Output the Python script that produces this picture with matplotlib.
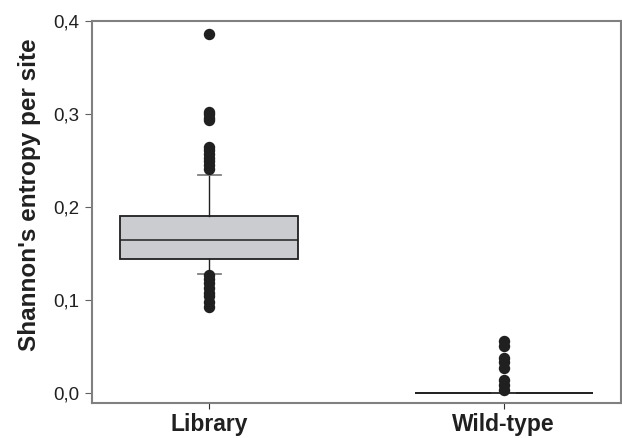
import matplotlib.pyplot as plt
from matplotlib.ticker import FuncFormatter

plt.rcParams['font.family'] = ['Liberation Sans', 'DejaVu Sans']

# grupos e estatisticas
grupos = ["Library", "Wild-type"]
q1 = [0.1444, 0.0]
mediana = [0.1642, 0.0]
q3 = [0.1903, 0.0]
bigode_inf = [0.128, 0.0]
bigode_sup = [0.2347, 0.0]
outliers_library = [0.3857, 0.3025, 0.300, 0.296, 0.2935,
                    0.2645, 0.261, 0.257, 0.253, 0.249, 0.245, 0.2405,
                    0.127, 0.122, 0.118, 0.113, 0.108, 0.104, 0.098, 0.0925]
outliers_wild = [0.056, 0.051, 0.038, 0.033, 0.027, 0.014, 0.009, 0.003]
outliers = [outliers_library, outliers_wild]

stats = []
for i, g in enumerate(grupos):
    stats.append({"label": g, "q1": q1[i], "med": mediana[i], "q3": q3[i],
                  "whislo": bigode_inf[i], "whishi": bigode_sup[i],
                  "fliers": outliers[i]})

fig = plt.figure(figsize=(6.22, 4.38), dpi=100)
ax = fig.add_axes([0.148, 0.080, 0.850, 0.872])

ax.bxp(stats, positions=[1, 2], widths=0.605, patch_artist=True,
       boxprops=dict(facecolor="#cbcccf", edgecolor="#202020", linewidth=1.3),
       medianprops=dict(color="#202020", linewidth=1.1),
       whiskerprops=dict(color="#202020", linewidth=1.0),
       capprops=dict(color="#808080", linewidth=1.3),
       capwidths=0.078,
       flierprops=dict(marker="o", markersize=7.2, markerfacecolor="#202020",
                       markeredgecolor="#202020"))

ax.set_xlim(0.602, 2.398)
ax.set_ylim(-0.0108, 0.4)
ax.set_yticks([0.0, 0.1, 0.2, 0.3, 0.4])
ax.yaxis.set_major_formatter(FuncFormatter(lambda v, p: ("%.1f" % v).replace(".", ",")))
ax.set_xticks([1, 2])
ax.set_xticklabels(grupos, fontsize=16.5, fontweight="bold", color="#202020")
ax.set_ylabel("Shannon's entropy per site", fontsize=17.5, fontweight="bold",
              color="#202020")
ax.yaxis.set_label_coords(-0.096, 0.545)

for s in ax.spines.values():
    s.set_color("#808080")
    s.set_linewidth(1.5)
ax.tick_params(axis="y", direction="out", length=5, color="#606060",
               labelsize=13.5, labelcolor="#202020", pad=4)
ax.tick_params(axis="x", direction="out", length=4, color="#303030", pad=3)

fig.savefig("out.png", dpi=100)
